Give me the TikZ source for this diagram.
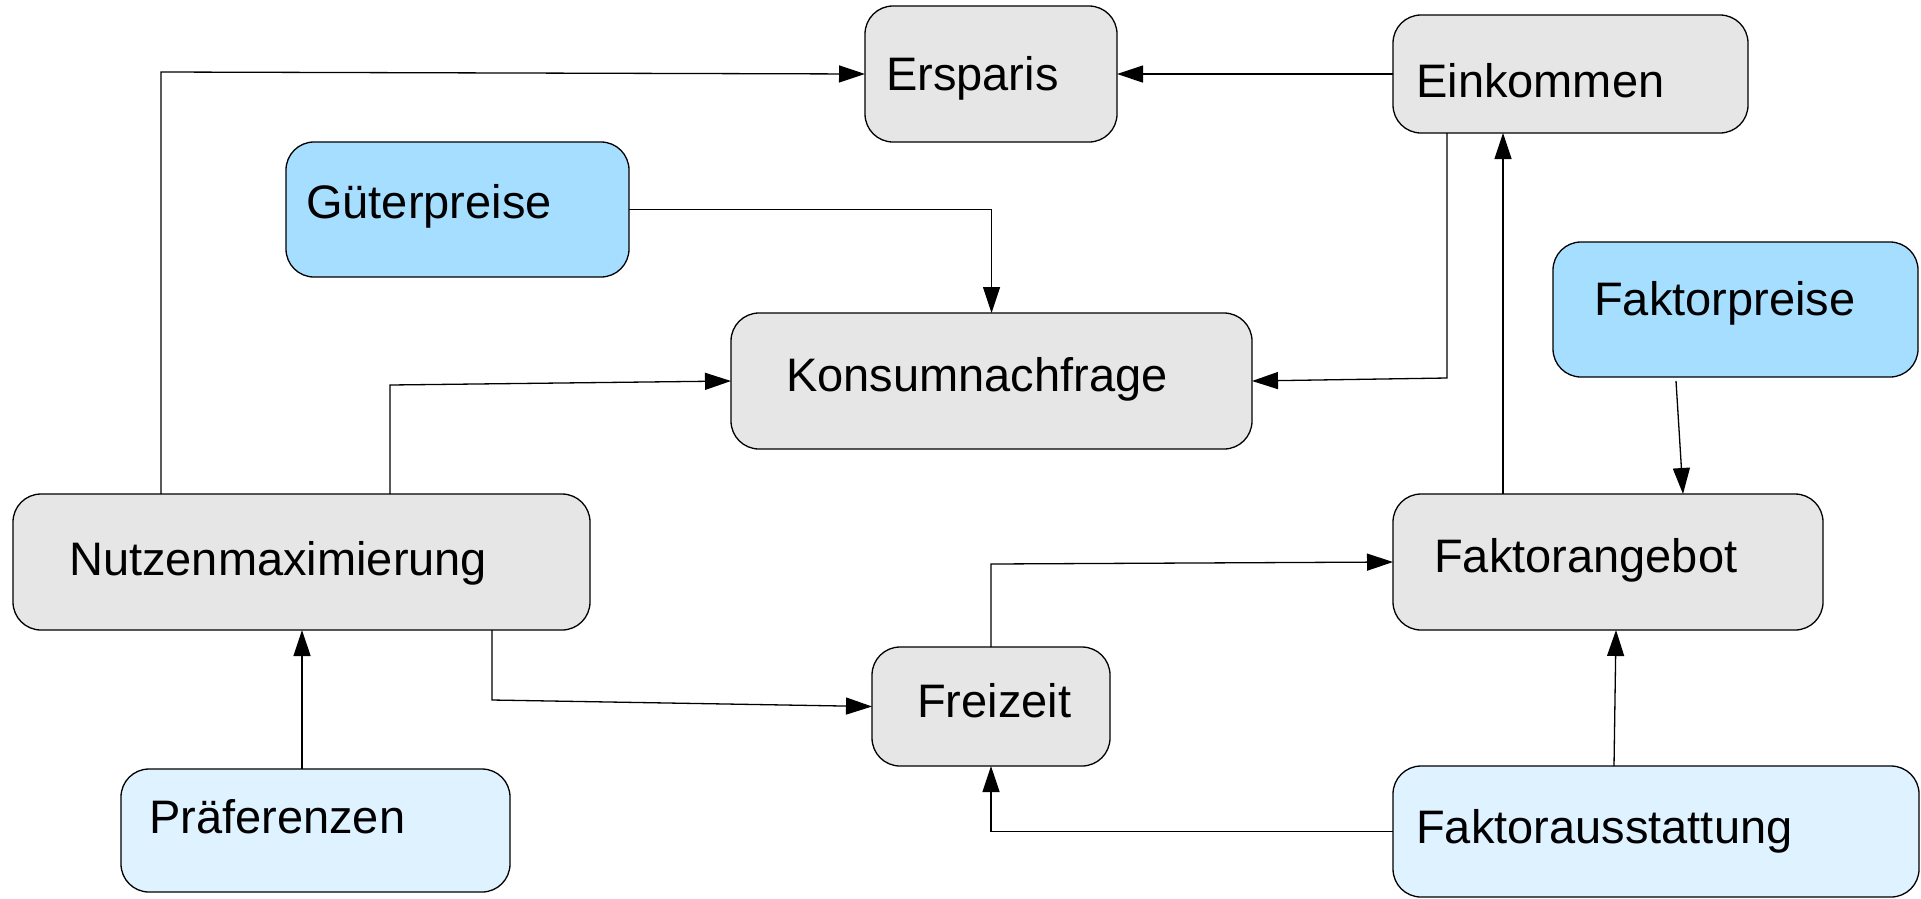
\documentclass[tikz,border=0pt]{standalone}
\usepackage{fontspec}
\setmainfont{Liberation Sans}
\usetikzlibrary{arrows.meta,calc}
\definecolor{boxgrey}{HTML}{E6E6E6}
\definecolor{boxblue}{HTML}{A6DEFF}
\definecolor{boxpale}{HTML}{DFF2FF}
\tikzset{
  box/.style={draw=black, line width=1.3pt, rounded corners=28pt, outer sep=0pt, inner sep=0pt},
  greybox/.style={box, fill=boxgrey},
  bluebox/.style={box, fill=boxblue},
  palebox/.style={box, fill=boxpale},
  lbl/.style={anchor=base west, inner sep=0pt, font=\fontsize{47}{56}\selectfont},
  arr/.style={draw=black, line width=1.3pt, -{Triangle[length=26pt,width=17pt]}},
}
\begin{document}
\begin{tikzpicture}[x=1pt,y=-1pt]
\useasboundingbox (0,0) rectangle (1921,898);
% boxes
\node[greybox, minimum width=252pt, minimum height=136pt] (ers)   at (991,74) {};
\node[greybox, minimum width=355pt, minimum height=118pt] (eink)  at (1570.5,74) {};
\node[bluebox, minimum width=343pt, minimum height=135pt] (gut)   at (457.5,209.5) {};
\node[greybox, minimum width=521pt, minimum height=136pt] (kons)  at (991.5,381) {};
\node[bluebox, minimum width=365pt, minimum height=135pt] (fpr)   at (1735.5,309.5) {};
\node[greybox, minimum width=577pt, minimum height=136pt] (nutz)  at (301.5,562) {};
\node[greybox, minimum width=430pt, minimum height=136pt] (fang)  at (1608,562) {};
\node[greybox, minimum width=238pt, minimum height=119pt] (frz)   at (991,706.5) {};
\node[palebox, minimum width=389pt, minimum height=123pt] (praef) at (315.5,830.5) {};
\node[palebox, minimum width=526pt, minimum height=131pt] (fas)   at (1656,831.5) {};
% labels
\node[lbl] (tErs)   at (886,90)   {Ersparis};
\node[lbl] (tEink)  at (1416,97)  {Einkommen};
\node[lbl] (tGut)   at (306,218)  {Güterpreise};
\node[lbl] (tKons)  at (786,391)  {Konsumnachfrage};
\node[lbl] (tFpr)   at (1594,315) {Faktorpreise};
\node[lbl] (tNutz)  at (69,575)   {Nutzenmaximierung};
\node[lbl] (tFang)  at (1434,572) {Faktorangebot};
\node[lbl] (tFrz)   at (917,717)  {Freizeit};
\node[lbl] (tPraef) at (149,833)  {Präferenzen};
\node[lbl] (tFas)   at (1416,843) {Faktorausstattung};
% connectors
\draw[arr] ([xshift=148pt]nutz.north west) -- ($(nutz.north west |- ers.west)+(148,-2)$) -- (ers.west);
\draw[arr] (eink.west) -- (ers.east);
\draw[arr] (gut.east) -| (kons.north);
\draw[arr] ([xshift=377pt]nutz.north west) -- ($(nutz.north west |- kons.west)+(377,4)$) -- (kons.west);
\draw[arr] ([xshift=54pt]eink.south west) -- ($(eink.south west |- kons.east)+(54,-3)$) -- (kons.east);
\draw[arr] ([xshift=110pt]fang.north west) -- ([xshift=110pt]eink.south west);
\draw[arr] ([xshift=123pt,yshift=-4pt]fpr.south west) -- ([xshift=290pt]fang.north west);
\draw[arr] ([xshift=479pt]nutz.south west) -- ++(0,70) -- (frz.west);
\draw[arr] (frz.north) -- ($(frz.north |- fang.west)+(0,2)$) -- (fang.west);
\draw[arr] (fas.west) -| (frz.south);
\draw[arr] ([xshift=221pt]fas.north west) -- ([xshift=223pt]fang.south west);
\draw[arr] ([xshift=181pt]praef.north west) -- ([xshift=289pt]nutz.south west);
\end{tikzpicture}
\end{document}
